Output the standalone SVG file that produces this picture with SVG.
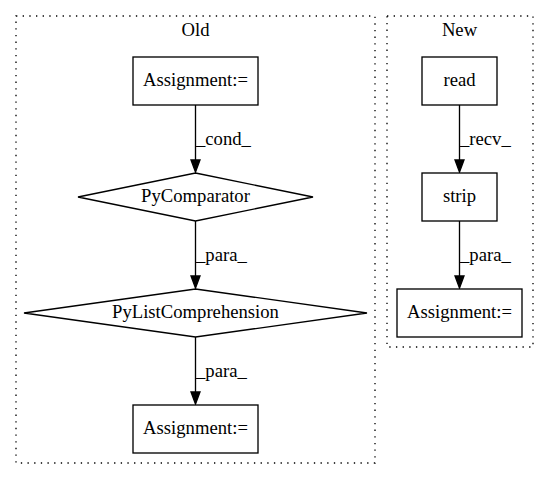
<svg xmlns="http://www.w3.org/2000/svg" width="549" height="480" viewBox="0 0 549 480" font-family="'Liberation Serif','Times New Roman','DejaVu Serif',serif" font-size="18.67">
<style>
text{font-family:'Liberation Serif','Times New Roman','DejaVu Serif',serif;font-size:18.67px;fill:#000}
.c{text-anchor:middle}
.cl{fill:none;stroke:#000;stroke-width:1.33;stroke-dasharray:1.33,5.33}
.n{fill:#fff;stroke:#000;stroke-width:1.33}
.e{stroke:#000;stroke-width:1.33;fill:none}
.ah{fill:#000;stroke:#000;stroke-width:1.33}
</style>
<rect width="549" height="480" fill="#fff"/>
<g id="cluster_old">
<rect class="cl" x="16" y="16" width="359" height="447"/>
<text class="c" x="195.5" y="36">Old</text>
</g>
<g id="cluster_new">
<rect class="cl" x="387" y="16" width="146" height="331"/>
<text class="c" x="459.5" y="36">New</text>
</g>
<g id="connectors">
<line class="e" x1="195.5" y1="105" x2="195.5" y2="160"/>
<polygon class="ah" points="191,160 200,160 195.5,172"/>
<text x="196" y="145">_cond_</text>
<line class="e" x1="195.5" y1="221" x2="195.5" y2="276"/>
<polygon class="ah" points="191,276 200,276 195.5,288"/>
<text x="196" y="261">_para_</text>
<line class="e" x1="195.5" y1="337" x2="195.5" y2="392"/>
<polygon class="ah" points="191,392 200,392 195.5,404"/>
<text x="196" y="377">_para_</text>
<line class="e" x1="459.5" y1="105" x2="459.5" y2="160"/>
<polygon class="ah" points="455,160 464,160 459.5,172"/>
<text x="460" y="145">_recv_</text>
<line class="e" x1="459.5" y1="221" x2="459.5" y2="276"/>
<polygon class="ah" points="455,276 464,276 459.5,288"/>
<text x="460" y="261">_para_</text>
</g>
<g id="old_assign1">
<rect class="n" x="133" y="57" width="125" height="48"/>
<text class="c" x="195.5" y="86">Assignment:=</text>
</g>
<g id="old_pycomparator">
<polygon class="n" points="195.5,173 313,197 195.5,221 78,197"/>
<text class="c" x="195.5" y="202">PyComparator</text>
</g>
<g id="old_pylistcomp">
<polygon class="n" points="195.5,289 367,313 195.5,337 24,313"/>
<text class="c" x="195.5" y="318">PyListComprehension</text>
</g>
<g id="old_assign2">
<rect class="n" x="133" y="405" width="125" height="48"/>
<text class="c" x="195.5" y="434">Assignment:=</text>
</g>
<g id="new_read">
<rect class="n" x="422" y="57" width="75" height="48"/>
<text class="c" x="459.5" y="86">read</text>
</g>
<g id="new_strip">
<rect class="n" x="422" y="173" width="75" height="48"/>
<text class="c" x="459.5" y="202">strip</text>
</g>
<g id="new_assign">
<rect class="n" x="397" y="289" width="125" height="48"/>
<text class="c" x="459.5" y="318">Assignment:=</text>
</g>
</svg>
